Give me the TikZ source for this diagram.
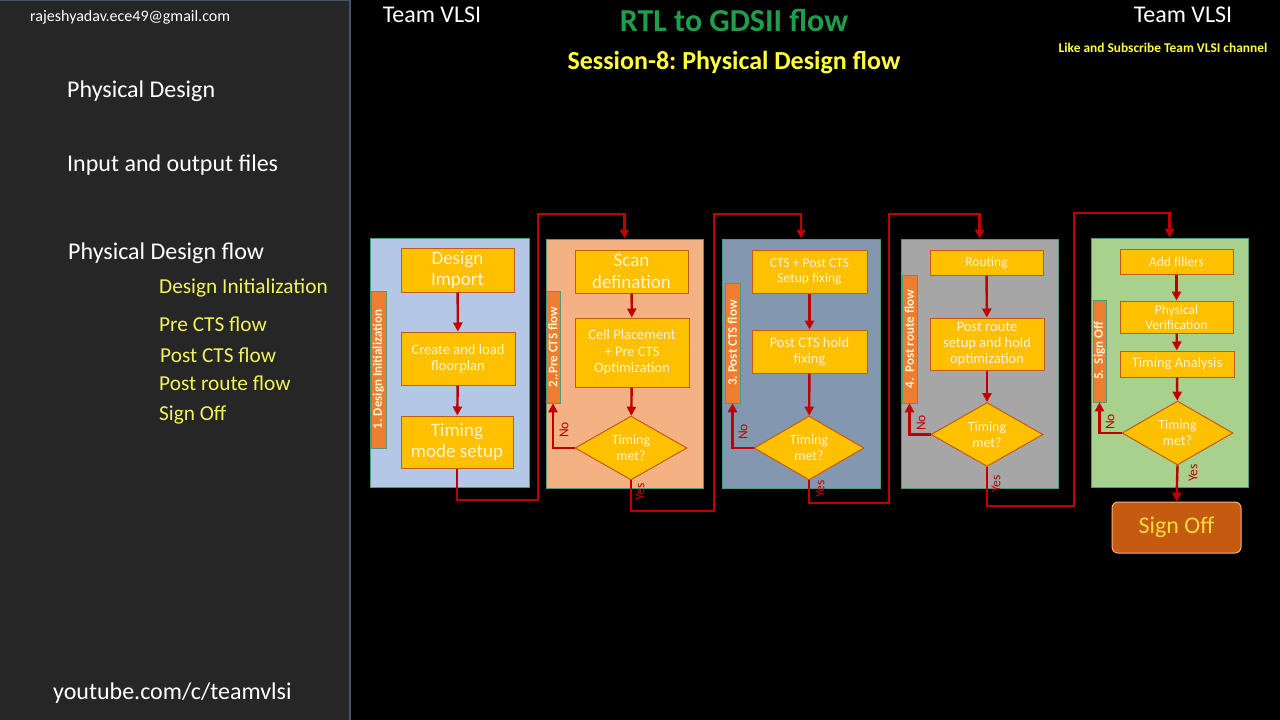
\documentclass[tikz,border=0pt]{standalone}
\usepackage{fontspec}
\setmainfont{Carlito}
\usetikzlibrary{arrows.meta,shapes.geometric}

\definecolor{sidegrey}{HTML}{262626}
\definecolor{sideedge}{HTML}{44546A}
\definecolor{menuyellow}{HTML}{F2F25C}
\definecolor{titlegreen}{HTML}{1E9E4C}
\definecolor{titleyellow}{HTML}{FFFF3C}
\definecolor{boxyellow}{HTML}{FFC000}
\definecolor{boxedge}{HTML}{C55A11}
\definecolor{boxtext}{HTML}{FFF4D0}
\definecolor{flowred}{HTML}{C00000}
\definecolor{tagorange}{HTML}{ED7D31}
\definecolor{panedge}{HTML}{4F9A7E}
\definecolor{initblue}{HTML}{B4C7E7}
\definecolor{prepeach}{HTML}{F4B183}
\definecolor{postslate}{HTML}{8497B0}
\definecolor{routegrey}{HTML}{A6A6A6}
\definecolor{signgreen}{HTML}{A9D18E}
\definecolor{signtext}{HTML}{FFD93C}

\newcommand{\fsz}[1]{\fontsize{#1}{\fpeval{1.13*#1}}\selectfont}

\tikzset{
  panel/.style={draw=panedge, line width=1pt, minimum width=157pt, minimum height=249pt, inner sep=0pt},
  tag/.style={rotate=90, fill=tagorange, draw=panedge, line width=0.6pt, text=boxtext, inner sep=0pt, font=\bfseries\fsz{13}},
  box/.style={draw=boxedge, fill=boxyellow, line width=1pt, text=boxtext, align=center, inner sep=1pt, font=\fsz{14.5}},
  decision/.style={diamond, draw=boxedge, fill=boxyellow, line width=1pt, text=boxtext, align=center, inner sep=0pt, font=\fsz{14}},
  flow/.style={->, draw=flowred, line width=2.4pt},
  note/.style={rotate=90, text=flowred, font=\fsz{13.5}},
  menu/.style={anchor=west, inner sep=0pt, text=white, font=\fsz{24}},
  submenu/.style={anchor=west, inner sep=0pt, text=menuyellow, font=\fsz{21.3}}
}

\begin{document}
\frenchspacing
\begin{tikzpicture}[x=1pt, y=-1pt, >={Triangle[length=9pt,width=9pt]}]
    \useasboundingbox (0,0) rectangle (1280,720);
    \fill[black] (0,0) rectangle (1280,720);

    % side bar
    \draw[fill=sidegrey, draw=sideedge, line width=1.5pt] (-2,0.5) rectangle (350,722);
    \node[anchor=west, inner sep=0pt, text=white, font=\fsz{16}] (mail) at (30,17) {rajeshyadav.ece49@gmail.com};
    \node[menu] (pd) at (67,91) {Physical Design};
    \node[menu] (io) at (67,165) {Input and output files};
    \node[menu] (pdf) at (68,253) {Physical Design flow};
    \node[submenu] (s1) at (159,288) {Design Initialization};
    \node[submenu] (s2) at (159,324) {Pre CTS flow};
    \node[submenu] (s3) at (160,355) {Post CTS flow};
    \node[submenu] (s4) at (159,383) {Post route flow};
    \node[submenu] (s5) at (159,415) {Sign Off};
    \node[menu] (yt) at (53,693) {youtube.com/c/teamvlsi};

    % headings
    \node[text=white, font=\fsz{24}] (teamL) at (432,15) {Team VLSI};
    \node[text=titlegreen, font=\bfseries\fsz{32}] (title) at (734,20) {RTL to GDSII flow};
    \node[text=titleyellow, font=\bfseries\fsz{26}] (sub) at (734,63) {Session-8: Physical Design flow};
    \node[text=white, font=\fsz{24}] (teamR) at (1183,15) {Team VLSI};
    \node[text=titleyellow, font=\bfseries\fsz{13.4}] (like) at (1163,48) {Like and Subscribe Team VLSI channel};

    % panels
    \node[panel, fill=initblue, minimum width=159pt] (p1) at (449.5,362.5) {};
    \node[panel, fill=prepeach] (p2) at (624.5,363.5) {};
    \node[panel, fill=postslate, minimum width=158pt] (p3) at (801,363.5) {};
    \node[panel, fill=routegrey] (p4) at (979.5,363.5) {};
    \node[panel, fill=signgreen] (p5) at (1169.5,362.5) {};

    % stage tags (rotated: west end is the bottom)
    \node[tag, minimum width=157pt, minimum height=15pt] (t1) at (378.5,369.5) {1. Design Initialization};
    \node[tag, minimum width=112pt, minimum height=14pt] (t2) at (553,347) {2..Pre CTS flow};
    \node[tag, minimum width=120pt, minimum height=15pt] (t3) at (732.5,343) {3. Post CTS flow};
    \node[tag, minimum width=128pt, minimum height=15pt] (t4) at (909.5,339) {4.\ \ Post route flow};
    \node[tag, minimum width=102pt, minimum height=13pt] (t5) at (1099.5,351) {5.\ \ Sign Off};

    % links between stages
    \coordinate (c1a) at (538,500);
    \coordinate (c1b) at (538,214);
    \coordinate (c2a) at (714,511);
    \coordinate (c2b) at (714,214);
    \coordinate (c3a) at (889,503);
    \coordinate (c3b) at (889,214);
    \coordinate (c4a) at (1074,506);
    \coordinate (c4b) at (1074,213);

    % stage 1
    \node[box, minimum width=113pt, minimum height=44pt, font=\fsz{19}] (di) at (457.5,270) {Design\\Import};
    \node[box, minimum width=114pt, minimum height=53pt] (cl) at (458,358.5) {Create and load\\floorplan};
    \node[box, minimum width=112pt, minimum height=52pt, font=\fsz{19}] (tm) at (457,442) {Timing\\mode setup};
    \draw[flow] (di) -- (cl);
    \draw[flow] (cl) -- (tm);
    \draw[flow] (tm.south) |- (c1a) -- (c1b) -| (p2.north);

    % stage 2
    \node[box, minimum width=113pt, minimum height=43pt, font=\fsz{19}] (sd) at (631.5,271.5) {Scan\\defination};
    \node[box, minimum width=114pt, minimum height=69pt] (cp) at (632,352.5) {Cell Placement\\+ Pre CTS\\Optimization};
    \node[decision, minimum width=112pt, minimum height=60pt] (d2) at (631,448) {Timing\\met?};
    \draw[flow] (sd) -- (cp);
    \draw[flow] (cp) -- (d2);
    \draw[flow] (d2.west) -| (t2.west);
    \node[note] (no2) at (564,430) {No};
    \node[note] (yes2) at (640,492) {Yes};
    \draw[flow] (d2.south) |- (c2a) -- (c2b) -| (p3.north);

    % stage 3
    \node[box, minimum width=115pt, minimum height=43pt, font=\fsz{13.5}] (cts) at (809.5,271.5) {CTS + Post CTS\\Setup fixing};
    \node[box, minimum width=115pt, minimum height=43pt] (ph) at (809.5,351.5) {Post CTS hold\\fixing};
    \node[decision, minimum width=110pt, minimum height=60pt] (d3) at (809,448) {Timing\\met?};
    \draw[flow] (cts) -- (ph);
    \draw[flow] (ph) -- (d3);
    \draw[flow] (d3.west) -| (t3.west);
    \node[note] (no3) at (743,432) {No};
    \node[note] (yes3) at (820,489) {Yes};
    \draw[flow] (d3.south) |- (c3a) -- (c3b) -| (p4.north);

    % stage 4
    \node[box, minimum width=113pt, minimum height=25pt, font=\fsz{13.5}] (rt) at (986.5,262.5) {Routing};
    \node[box, minimum width=114pt, minimum height=52pt] (pr) at (987,344) {Post route\\setup and hold\\optimization};
    \node[decision, minimum width=112pt, minimum height=59pt] (d4) at (987,434.5) {Timing\\met?};
    \draw[flow] (rt) -- (pr);
    \draw[flow] (pr) -- (d4);
    \draw[flow] (d4.west) -| (t4.west);
    \node[note] (no4) at (921,423) {No};
    \node[note] (yes4) at (996,484) {Yes};
    \draw[flow] (d4.south) |- (c4a) -- (c4b) -| (p5.north);

    % stage 5
    \node[box, minimum width=113pt, minimum height=25pt, font=\fsz{13.5}] (af) at (1176.5,261.5) {Add fillers};
    \node[box, minimum width=113pt, minimum height=32pt, font=\fsz{13.5}] (pv) at (1176.5,317) {Physical\\Verification};
    \node[box, minimum width=114pt, minimum height=26pt, font=\fsz{14.5}] (ta) at (1177,364) {Timing Analysis};
    \node[decision, minimum width=111pt, minimum height=58pt] (d5) at (1177.5,433) {Timing\\met?};
    \node[rounded corners=6pt, fill=boxedge, draw=prepeach, line width=1pt, minimum width=129pt, minimum height=51pt, text=signtext, font=\fsz{24}] (so) at (1176.5,527.5) {Sign Off};
    \draw[flow] (af) -- (pv);
    \draw[flow] (pv) -- (ta);
    \draw[flow] (ta) -- (d5);
    \draw[flow] (d5.west) -| (t5.west);
    \node[note] (no5) at (1110,422) {No};
    \node[note] (yes5) at (1193,473) {Yes};
    \draw[flow] (d5.south) -- (so.north);
\end{tikzpicture}
\end{document}
